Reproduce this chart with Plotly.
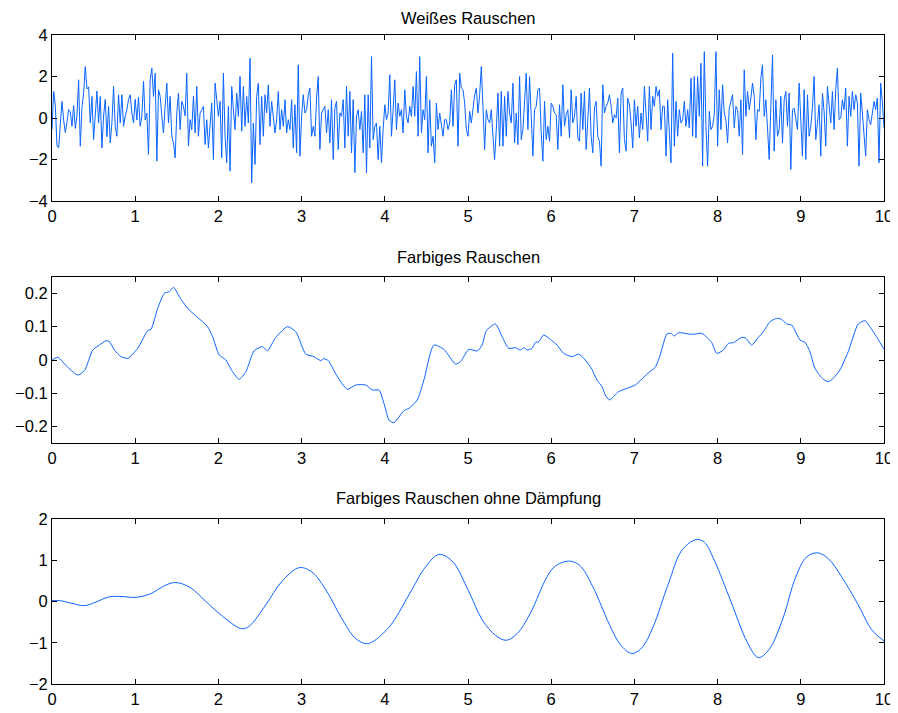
import numpy as np
import plotly.graph_objects as go
from plotly.subplots import make_subplots

# ---- Data ----
white_noise = [
    -0.56, 1.28, 0.6, -1.36, -1.44, -0.4, 0.8, -0.1, -0.7, -0.2, 0.4, 0.3, -0.4, 0.6, -0.5, 0.1,
    1.84, -1.36, 0.5, 1.2, 2.48, 1.4, 1.5, -0.24, 1.04, -1.04, 0.4, 1.3, -0.24, 1.04, -1.44, 0.1,
    0.9, -0.9, 0.56, -1.2, -0.24, 1.52, -0.4, -0.88, 1.12, -0.24, 1.12, -0.4, 0.1, 0.4, 0.9, 1.12,
    0.24, -0.24, 0.9, -0.1, 1.0, -0.4, 0.1, 1.76, -0.1, 0.24, -1.76, 1.84, 2.4, 1.04, 2.16, -2.08,
    1.36, 1.04, 0.1, -0.72, 0.56, 1.68, -0.24, 1.04, -0.88, -1.2, -1.92, 0.24, 1.2, -0.56, 0.8, 0.56, 0.1,
    # t = 1.62 ...
    2.16, -1.36, -0.08, -0.56, 1.04, -0.72, 1.52, -0.88, 0.24, 0.4, 0.56, -1.28, -0.08, -1.44, -0.16, 0.72,
    -2.0, 1.68, 0.88, 0.08, 0.8, -1.92, 2.16, -0.88, -2.16, 0.56, -2.56, 1.52, 0.4, -0.56, 1.2, 0.08,
    2.0, -0.64, 1.52, -0.4, 1.04, -0.24, 2.88, -3.12, -0.24, -2.24, 1.04, 1.68, -1.28, 1.04, -0.88, 1.12,
    0.24, 1.6, -0.4, 0.8, 0.08, -0.72, -0.08, 1.28, -0.56, 0.4, -0.4, 0.88, -0.72, -0.08, -0.56, 0.88,
    -1.44, 0.64, -1.68, 2.56, -1.84, 0.08, 1.12, 0.24, 0.4, 1.12, 1.44, -0.88, -0.4, -0.88, 0.96, 2.0,
    -1.52, 0.24, 0.4, 0.56,
    # t = 3.30 ...
    -0.72, 0.4, -1.2, 0.88, -2.0, 0.48, 0.8, -1.52, 0.24, 0.08, 0.88, -1.44, 1.52, -0.88, 1.28, -1.68,
    0.88, -2.64, 0.08, 0.4, -0.56, 0.32, -1.68, 1.12, -2.64, 1.12, -1.44, 2.96, -1.04, -0.4, -0.24, -2.0,
    -0.4, -2.16, -0.56, 0.64, -0.08, 0.24, 2.08, -0.88, 0.4, 1.84, -0.56, 0.72, 0.08, 0.4, -0.72, 1.36,
    0.08, -0.24, 0.56, 0.08, 1.52, 0.08, 2.24, -0.88, 2.96, -0.72, 0.4, -0.08, 2.0, -1.68, 0.88, -1.36,
    -0.88, -2.16, 0.72, -0.56, 0.24, -0.4, -0.88, -0.08, -0.08, -0.56, -0.24, 1.36, -0.4, 1.6, 1.84, -1.36,
    2.16, 1.44, 1.36, 0.72,
    # t = 4.98 ...
    -0.56, -0.88, 0.32, -0.24, 0.4, 1.12, 1.44, 0.24, 1.12, 2.48, 0.56, -1.52, 0.4, -0.08, -0.24, 0.4,
    -0.88, -2.0, -0.56, 1.2, -1.36, 1.28, -1.36, 1.04, -0.88, 1.28, 0.24, -0.24, 1.68, -1.2, 0.24, -1.28,
    2.0, -1.04, -0.56, 1.04, 2.16, -0.56, 2.0, 0.08, -1.84, 0.4, 0.56, 1.36, 1.44, -0.72, -2.08, 0.8,
    -1.04, -0.4, -1.12, 0.72, 0.56, 0.24, 0.16, -1.52, 0.64, -0.88, 1.6, -0.4, 0.16, 0.4, -0.96, 1.36,
    -0.24, 0.08, 1.04, -0.96, -1.12, 1.2, -0.56, 1.28, -1.52, -0.08, 1.44, -0.88, -1.68, 0.48, 0.8, -0.88,
    -1.12, -2.32, 1.6, 0.24,
    # t = 6.66 ...
    0.56, 0.72, 1.12, 0.56, -0.24, 0.16, 0.0, 0.96, -1.68, 1.2, 1.44, -1.04, -1.6, 0.96, 0.64, -0.24,
    -1.44, 0.88, -0.4, 0.56, -0.96, 0.24, -0.56, 1.52, 0.32, -1.12, 1.52, -0.56, 1.04, 0.56, 1.52, 1.04,
    1.36, -0.56, 0.56, 0.56, -1.84, 0.88, -0.72, -2.16, 3.12, -1.36, 0.8, -0.88, 0.4, -0.24, -0.08, 0.8,
    -0.4, 0.4, -0.48, 1.92, -0.88, 2.0, -0.96, 2.0, 0.08, 2.64, -2.32, 3.2, -0.4, -2.32, 0.32, -0.56,
    -0.4, 0.16, 3.2, -1.36, 1.36, -0.56, 1.6, 0.24, -0.08, -1.2, 0.48, 0.8, 1.12, -0.48, 0.56, 0.4,
    -0.88, 0.88, -1.76, 2.32,
    # t = 8.34 ...
    0.08, 1.28, 0.4, 0.96, 1.68, 1.04, -1.04, 0.4, 0.32, 1.92, 2.56, 0.08, 0.88, -0.48, -2.0, 0.56,
    3.04, -1.6, 0.88, -0.88, -0.56, 1.04, -1.2, 0.88, 1.28, -0.4, 1.2, -2.48, 0.4, 0.48, -0.08, -0.56,
    1.68, -0.4, -1.84, 1.36, -2.0, 1.12, -0.88, -0.4, 0.48, 2.0, -1.04, -0.24, 0.64, -1.84, 1.2, 0.32,
    -1.36, 1.52, 0.56, -0.24, 1.28, -0.56, 1.36, 2.4, -0.08, 0.0, 0.88, 0.4, 1.44, -1.36, 1.04, 0.08,
    1.28, 0.4, 1.12, 0.72, -2.32, 1.2, 0.24, -0.88, -1.84, 0.4, -0.08, -0.32, 0.24, 0.8, 0.4, 0.96,
    -2.16, 1.68, 0.8, -0.48,
]
white_t = np.linspace(0, 10, len(white_noise))

colored_t = [
    0.0, 0.07, 0.19, 0.31, 0.39, 0.49, 0.57, 0.65, 0.69, 0.75, 0.83, 0.91, 1.03, 1.15, 1.19, 1.27,
    1.35, 1.41, 1.46, 1.55, 1.65, 1.75, 1.87, 1.93, 2.01, 2.09, 2.17, 2.25, 2.33, 2.43, 2.53, 2.59,
    2.69, 2.83, 2.93, 3.05, 3.15, 3.23, 3.27, 3.32, 3.43, 3.55, 3.65, 3.77, 3.85, 3.93, 3.99, 4.05,
    4.11, 4.23, 4.29, 4.39, 4.47, 4.59, 4.71, 4.85, 4.91, 5.01, 5.11, 5.17, 5.22, 5.33, 5.41, 5.49,
    5.57, 5.63, 5.67, 5.71, 5.77, 5.81, 5.85, 5.91, 5.99, 6.07, 6.15, 6.25, 6.33, 6.41, 6.49, 6.55,
    6.61, 6.65, 6.70, 6.81, 6.91, 7.01, 7.09, 7.17, 7.25, 7.31, 7.39, 7.44, 7.48, 7.53, 7.65, 7.71,
    7.81, 7.87, 7.93, 7.99, 8.07, 8.13, 8.19, 8.29, 8.34, 8.41, 8.49, 8.55, 8.63, 8.71, 8.77, 8.83,
    8.89, 8.99, 9.05, 9.11, 9.17, 9.27, 9.33, 9.39, 9.47, 9.57, 9.69, 9.77, 9.83, 9.91, 10.0,
]
colored_noise = [
    0.0, 0.008, -0.022, -0.045, -0.032, 0.03, 0.045, 0.058, 0.055, 0.03, 0.01, 0.005, 0.035, 0.088, 0.092, 0.155,
    0.2, 0.205, 0.218, 0.182, 0.15, 0.128, 0.1, 0.07, 0.015, 0.0, -0.035, -0.058, -0.035, 0.028, 0.04, 0.028,
    0.068, 0.1, 0.085, 0.018, 0.01, -0.002, 0.004, -0.002, -0.05, -0.088, -0.075, -0.075, -0.09, -0.09, -0.13, -0.18,
    -0.188, -0.152, -0.145, -0.12, -0.06, 0.045, 0.032, -0.012, -0.005, 0.032, 0.027, 0.045, 0.088, 0.108, 0.07, 0.035,
    0.037, 0.03, 0.037, 0.03, 0.035, 0.053, 0.055, 0.075, 0.062, 0.045, 0.02, 0.01, 0.018, 0.0, -0.028, -0.06,
    -0.08, -0.105, -0.12, -0.095, -0.085, -0.075, -0.057, -0.038, -0.022, 0.015, 0.078, 0.08, 0.072, 0.082, 0.078, 0.077,
    0.08, 0.068, 0.052, 0.02, 0.03, 0.05, 0.052, 0.068, 0.065, 0.045, 0.068, 0.085, 0.115, 0.125, 0.122, 0.108,
    0.105, 0.06, 0.053, 0.025, -0.025, -0.058, -0.065, -0.055, -0.03, 0.025, 0.108, 0.118, 0.1, 0.07, 0.032,
]

undamped_t = [
    0.0, 0.1, 0.23, 0.39, 0.52, 0.68, 0.85, 1.01, 1.2, 1.33, 1.48, 1.66, 1.85, 2.05, 2.28, 2.37,
    2.57, 2.76, 2.97, 3.12, 3.28, 3.48, 3.64, 3.77, 3.85, 4.06, 4.29, 4.49, 4.65, 4.81, 5.01, 5.17,
    5.33, 5.46, 5.59, 5.75, 5.95, 6.05, 6.21, 6.34, 6.5, 6.7, 6.83, 6.97, 7.09, 7.22, 7.41, 7.57,
    7.74, 7.84, 7.96, 8.16, 8.36, 8.49, 8.62, 8.78, 8.94, 9.07, 9.2, 9.33, 9.49, 9.69, 9.85, 10.0,
]
undamped_noise = [
    0.02, 0.02, -0.04, -0.1, -0.02, 0.11, 0.12, 0.1, 0.2, 0.36, 0.46, 0.34, 0.0, -0.36, -0.66, -0.6,
    -0.08, 0.48, 0.82, 0.72, 0.32, -0.4, -0.88, -1.02, -0.98, -0.6, 0.16, 0.84, 1.14, 0.98, 0.24, -0.44,
    -0.82, -0.94, -0.78, -0.28, 0.6, 0.86, 0.98, 0.88, 0.36, -0.56, -1.04, -1.26, -1.12, -0.64, 0.44, 1.24,
    1.5, 1.44, 1.0, 0.0, -1.0, -1.36, -1.16, -0.44, 0.6, 1.08, 1.18, 1.04, 0.6, -0.08, -0.68, -0.96,
]

titles = ["Weißes Rauschen", "Farbiges Rauschen", "Farbiges Rauschen ohne Dämpfung"]
x_ticks = list(range(0, 11))
y_ticks = [[-4, -2, 0, 2, 4], [-0.2, -0.1, 0, 0.1, 0.2], [-2, -1, 0, 1, 2]]
y_ticktext = [["\u22124", "\u22122", "0", "2", "4"],
              ["\u22120.2", "\u22120.1", "0", "0.1", "0.2"],
              ["\u22122", "\u22121", "0", "1", "2"]]
y_ranges = [[-4, 4], [-0.25, 0.25], [-2, 2]]

# ---- Figure ----
# The page body has an 8px margin, so window coordinates are shifted by (8, 8).
OFF = 8
W, H = 898 - OFF, 713 - OFF
left, right, top, bottom = 52 - OFF, 884 - OFF, 35 - OFF, 684 - OFF
ml, mr, mt, mb = left, W - right, top, H - bottom
ph = H - mt - mb

def dom(top_px, bot_px):
    t_, b_ = top_px - OFF, bot_px - OFF
    return [(bottom - b_) / ph, (bottom - t_) / ph]

domains = [dom(35, 201), dom(276.7, 443.3), dom(519, 684)]
# top edge (window px) of each title's text box
title_top = [8, 247, 488]

fig = make_subplots(rows=3, cols=1)
color = "#0a64ff"
fig.add_trace(go.Scatter(x=white_t, y=white_noise, mode="lines",
                         line=dict(color=color, width=1)), row=1, col=1)
fig.add_trace(go.Scatter(x=colored_t, y=colored_noise, mode="lines",
                         line=dict(color=color, width=1, shape="spline", smoothing=0.6)), row=2, col=1)
fig.add_trace(go.Scatter(x=undamped_t, y=undamped_noise, mode="lines",
                         line=dict(color=color, width=1, shape="spline", smoothing=1.0)), row=3, col=1)

font = dict(family="Liberation Sans, Arial, Helvetica, sans-serif", size=16.5, color="black")
for i in range(3):
    r = i + 1
    fig.update_xaxes(row=r, col=1, range=[0, 10], tickvals=x_ticks,
                     ticktext=[str(v) for v in x_ticks], automargin=False,
                     showline=True, linecolor="black", linewidth=1, mirror="ticks",
                     ticks="inside", ticklen=5, tickcolor="black", showgrid=False,
                     zeroline=False, tickfont=font, domain=[0, 1])
    fig.update_yaxes(row=r, col=1, range=y_ranges[i], tickvals=y_ticks[i], ticktext=y_ticktext[i],
                     automargin=False,
                     showline=True, linecolor="black", linewidth=1, mirror="ticks",
                     ticks="inside", ticklen=5, tickcolor="black", showgrid=False,
                     zeroline=False, tickfont=font, domain=domains[i])
    fig.add_annotation(text=titles[i], xref="paper", yref="paper",
                       x=0.5, y=(bottom - (title_top[i] - OFF)) / ph, xanchor="center", yanchor="top",
                       borderpad=0, showarrow=False, font=font)

fig.update_layout(width=W, height=H, margin=dict(l=ml, r=mr, t=mt, b=mb),
                  plot_bgcolor="white", paper_bgcolor="white", showlegend=False)
fig.write_html("out.html")
